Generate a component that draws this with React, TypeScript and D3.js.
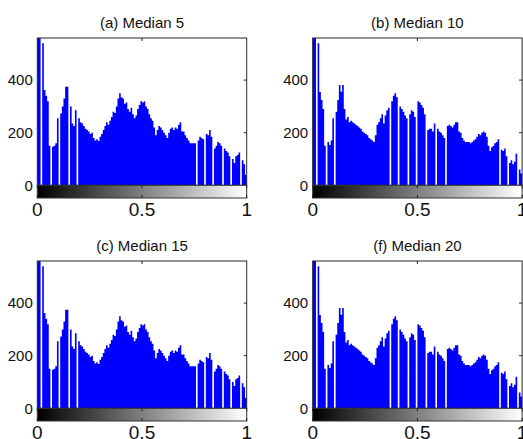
import * as d3 from 'd3';
import React, { useEffect, useRef } from 'react';

// bin counts, 128 bins spread over 0..1
const median5Counts = [
  600, 600, 0, 540, 362, 340, 320, 150, 0, 147, 150, 160, 255, 0, 273, 300, 330, 375, 375, 0,
  300, 235, 225, 285, 0, 255, 240, 235, 225, 215, 210, 205, 195, 200, 180, 170, 175, 168, 185, 195,
  210, 225, 240, 230, 245, 260, 280, 275, 300, 330, 350, 335, 330, 310, 315, 290, 280, 295, 270, 255,
  265, 290, 305, 320, 315, 320, 300, 290, 270, 255, 245, 220, 190, 210, 225, 220, 210, 200, 190, 180,
  200, 215, 220, 210, 220, 215, 230, 240, 205, 205, 190, 180, 170, 160, 160, 160, 160, 0, 170, 185,
  180, 175, 0, 195, 190, 210, 185, 0, 140, 150, 165, 160, 150, 0, 140, 130, 125, 110, 0, 100,
  85, 110, 115, 125, 0, 95, 80, 40
];

const median10Counts = [
  600, 600, 0, 540, 355, 324, 290, 150, 0, 165, 153, 170, 255, 0, 280, 324, 381, 356, 381, 290,
  250, 260, 240, 245, 240, 235, 230, 225, 220, 215, 205, 200, 195, 190, 180, 175, 170, 165, 190, 230,
  240, 255, 270, 235, 265, 285, 295, 0, 320, 340, 350, 335, 0, 300, 290, 280, 265, 255, 0, 270,
  285, 280, 260, 0, 320, 315, 305, 295, 270, 0, 210, 215, 215, 205, 235, 0, 215, 205, 200, 190,
  180, 0, 225, 230, 225, 220, 230, 240, 240, 205, 200, 180, 170, 165, 165, 165, 160, 165, 170, 175,
  185, 195, 190, 200, 205, 200, 185, 150, 130, 145, 150, 160, 165, 175, 0, 135, 130, 140, 110, 0,
  85, 95, 80, 90, 120, 0, 60, 45
];

// (c) and (f) show the same histograms as (a) and (b)
const median15Counts = median5Counts;
const median20Counts = median10Counts;

const panelTitles = ['(a) Median 5', '(b) Median 10', '(c) Median 15', '(f) Median 20'];
const panelCounts = [median5Counts, median10Counts, median15Counts, median20Counts];
const yTicks = [0, 200, 400];
const xTicks = [0, 0.5, 1];
const yMax = 560;

const App = () => {
  const svgRef = useRef(null);

  useEffect(() => {
    const svg = d3.select(svgRef.current);
    svg.selectAll('*').remove();

    const font = 'Liberation Sans, Arial, Helvetica, sans-serif';
    const lefts = [37.3, 312.7];
    const tops = [38, 261];
    const plotW = 209.4;
    const plotH = 147.3;
    const cbarH = 12.7;

    //gradient for the grey level strip under each histogram
    const defs = svg.append('defs');
    const grad = defs
      .append('linearGradient')
      .attr('id', 'grayRamp')
      .attr('x1', '0%')
      .attr('x2', '100%')
      .attr('y1', '0%')
      .attr('y2', '0%');
    grad.append('stop').attr('offset', '0%').attr('stop-color', '#000');
    grad.append('stop').attr('offset', '100%').attr('stop-color', '#fff');

    panelCounts.forEach((counts, p) => {
      const left = lefts[p % 2];
      const top = tops[Math.floor(p / 2)];
      const base = top + plotH;
      const n = counts.length;

      const x = d3.scaleLinear().domain([0, 1]).range([left, left + plotW]);
      const y = d3.scaleLinear().domain([0, yMax]).range([base, top]);

      const g = svg.append('g').attr('class', 'panel');

      //histogram drawn as one stepped area so bars have no seams between them
      const steps = counts.map((c, i) => [i / n, c]);
      steps.push([1, counts[n - 1]]);
      const area = d3
        .area()
        .x((d) => x(d[0]))
        .y0(base)
        .y1((d) => y(Math.min(d[1], yMax)))
        .curve(d3.curveStepAfter);

      g.append('path')
        .datum(steps)
        .attr('d', area)
        .attr('fill', '#0000ff');

      //axes box
      g.append('rect')
        .attr('x', left)
        .attr('y', top)
        .attr('width', plotW)
        .attr('height', plotH)
        .attr('fill', 'none')
        .attr('stroke', '#262626')
        .attr('stroke-width', 1);

      //inward ticks on right edge and top edge
      yTicks.forEach((t) => {
        g.append('line')
          .attr('x1', left + plotW)
          .attr('x2', left + plotW - 3)
          .attr('y1', y(t))
          .attr('y2', y(t))
          .attr('stroke', '#262626');
        g.append('text')
          .attr('x', left - 4.5)
          .attr('y', y(t) + 5.3)
          .attr('text-anchor', 'end')
          .attr('font-family', font)
          .attr('font-size', 15)
          .attr('fill', '#111')
          .text(t);
      });
      g.append('line')
        .attr('x1', x(0.5))
        .attr('x2', x(0.5))
        .attr('y1', top)
        .attr('y2', top + 3)
        .attr('stroke', '#262626');

      //grey ramp strip
      g.append('rect')
        .attr('x', left)
        .attr('y', base)
        .attr('width', plotW)
        .attr('height', cbarH)
        .attr('fill', 'url(#grayRamp)')
        .attr('stroke', '#333')
        .attr('stroke-width', 1);

      xTicks.forEach((t) => {
        g.append('line')
          .attr('x1', x(t))
          .attr('x2', x(t))
          .attr('y1', base)
          .attr('y2', base + 3)
          .attr('stroke', '#222');
        g.append('line')
          .attr('x1', x(t))
          .attr('x2', x(t))
          .attr('y1', base + cbarH)
          .attr('y2', base + cbarH - 3)
          .attr('stroke', '#222');
        g.append('text')
          .attr('x', x(t))
          .attr('y', base + cbarH + 17.5)
          .attr('text-anchor', 'middle')
          .attr('font-family', font)
          .attr('font-size', 19)
          .attr('fill', '#111')
          .text(t);
      });

      //panel title
      g.append('text')
        .attr('x', left + plotW / 2)
        .attr('y', top - 10.5)
        .attr('text-anchor', 'middle')
        .attr('font-family', font)
        .attr('font-size', 15)
        .attr('fill', '#111')
        .text(panelTitles[p]);
    });
  }, []);

  return (
    <svg
      ref={svgRef}
      width={523}
      height={439}
      style={{ position: 'absolute', left: 0, top: 0, background: '#fff' }}
    ></svg>
  );
};

export default App;
